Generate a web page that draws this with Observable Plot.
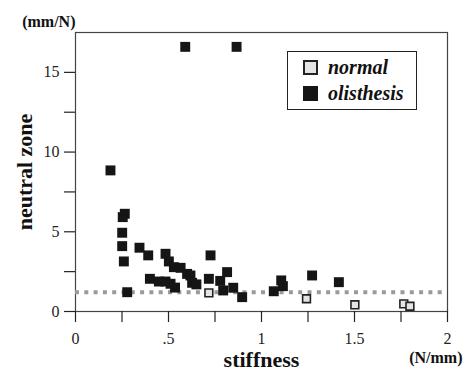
<!DOCTYPE html>
<html><head><meta charset="utf-8">
<script src="https://cdn.jsdelivr.net/npm/d3@7"></script>
<script src="https://cdn.jsdelivr.net/npm/@observablehq/plot@0.6"></script>
<style>
body{margin:0;background:#fff;}
#wrap{position:relative;width:465px;height:374px;}
.legend{position:absolute;left:287px;top:51px;width:128px;height:57px;border:1.5px solid #222;background:#fff;font-weight:bold;font-style:italic;font-size:20px;color:#111;}
.row{position:absolute;left:0;height:20px;line-height:20px;}
.sw{position:absolute;left:15px;top:1px;width:15px;height:15px;box-sizing:border-box;}
.lab{position:absolute;left:40px;top:-2px;white-space:nowrap;}
</style></head>
<body><div id="wrap"></div>
<script>
const seriesNames = ["normal", "olisthesis"];
const normalX = [0.717, 1.242, 1.502, 1.765, 1.798];
const normalY = [1.17, 0.80, 0.42, 0.48, 0.33];
const olisX = [0.59, 0.866, 0.188, 0.265, 0.254, 0.251, 0.251, 0.260, 0.278, 0.344, 0.391, 0.400, 0.448, 0.484, 0.484, 0.502, 0.529, 0.565, 0.600, 0.618, 0.627, 0.650, 0.511, 0.535, 0.726, 0.717, 0.778, 0.815, 0.794, 0.848, 0.896, 1.066, 1.106, 1.115, 1.272, 1.416];
const olisY = [16.6, 16.6, 8.85, 6.13, 5.92, 4.94, 4.10, 3.14, 1.21, 4.00, 3.52, 2.05, 1.88, 1.88, 3.62, 3.14, 2.78, 2.74, 2.36, 2.26, 1.80, 1.70, 1.74, 1.50, 3.52, 2.05, 1.92, 2.47, 1.32, 1.49, 0.90, 1.27, 1.95, 1.59, 2.26, 1.84];
const refLine = [1.2];
const xTicks = [0, 0.25, 0.5, 0.75, 1, 1.25, 1.5, 1.75, 2];
const xTickLabels = ["0", "", ".5", "", "1", "", "1.5", "", "2"];
const yTicks = [0, 2.5, 5, 7.5, 10, 12.5, 15];
const yTickLabels = ["0", "", "5", "", "10", "", "15"];
const xLabel = "stiffness", xUnit = "(N/mm)";
const yLabel = "neutral zone", yUnit = "(mm/N)";

const normal = normalX.map((x, i) => ({x, y: normalY[i]}));
const olis = olisX.map((x, i) => ({x, y: olisY[i]}));
const FONT = "Liberation Serif";

const chart = Plot.plot({
  width: 465, height: 374,
  marginLeft: 75, marginRight: 18, marginTop: 32, marginBottom: 63,
  style: {fontSize: "16px", color: "#222", background: "#fff"},
  x: {domain: [0, 2]},
  y: {domain: [0, 17.5]},
  marks: [
    Plot.frame({stroke: "#444", strokeWidth: 1.2}),
    Plot.axisX({ticks: xTicks, tickSize: 11, tickPadding: 10, strokeWidth: 1.2, fontSize: 16, fontFamily: FONT,
      tickFormat: d => xTickLabels[xTicks.indexOf(d)], label: null}),
    Plot.axisY({ticks: yTicks, tickSize: 11, tickPadding: 5, strokeWidth: 1.2, fontSize: 16, fontFamily: FONT,
      tickFormat: d => yTickLabels[yTicks.indexOf(d)], label: null}),
    Plot.ruleY(refLine, {stroke: "#9a9a9a", strokeWidth: 4, strokeDasharray: "4,5.3"}),
    Plot.dot(olis, {x: "x", y: "y", symbol: "square", r: 5.6, fill: "#151515", stroke: "none"}),
    Plot.dot(normal, {x: "x", y: "y", symbol: "square", r: 4.4, fill: "#e4e4e4", stroke: "#222", strokeWidth: 1.6}),
    Plot.text([yLabel], {text: d => d, frameAnchor: "left", textAnchor: "middle", lineAnchor: "middle", rotate: -90, dx: -51, fontSize: 22, fontWeight: "bold", fontFamily: FONT, fill: "#111"}),
    Plot.text([xLabel], {text: d => d, frameAnchor: "bottom", textAnchor: "middle", lineAnchor: "middle", dy: 48, fontSize: 22, fontWeight: "bold", fontFamily: FONT, fill: "#111"}),
    Plot.text([xUnit], {text: d => d, frameAnchor: "bottom-right", lineAnchor: "middle", dy: 46, dx: 15, textAnchor: "end", fontSize: 16, fontWeight: "bold", fontFamily: FONT, fill: "#111"}),
    Plot.text([yUnit], {text: d => d, frameAnchor: "top-left", lineAnchor: "middle", dy: -11, dx: 0, textAnchor: "end", fontSize: 16, fontWeight: "bold", fontFamily: FONT, fill: "#111"})
  ]
});
chart.setAttribute("font-family", FONT);
d3.select(chart).selectAll("text").attr("font-family", FONT);
const wrap = document.getElementById("wrap");
wrap.appendChild(chart);

const legend = document.createElement("div");
legend.className = "legend";
legend.style.fontFamily = FONT;
const styles = [
  "background:#e4e4e4;border:2px solid #222;",
  "background:#151515;"
];
seriesNames.forEach((name, i) => {
  const row = document.createElement("div");
  row.className = "row";
  row.style.top = (7 + i * 26) + "px";
  row.innerHTML = `<div class="sw" style="${styles[i]}"></div><span class="lab">${name}</span>`;
  row.querySelector(".lab").style.fontFamily = FONT;
  legend.appendChild(row);
});
wrap.appendChild(legend);
</script>
</body></html>
